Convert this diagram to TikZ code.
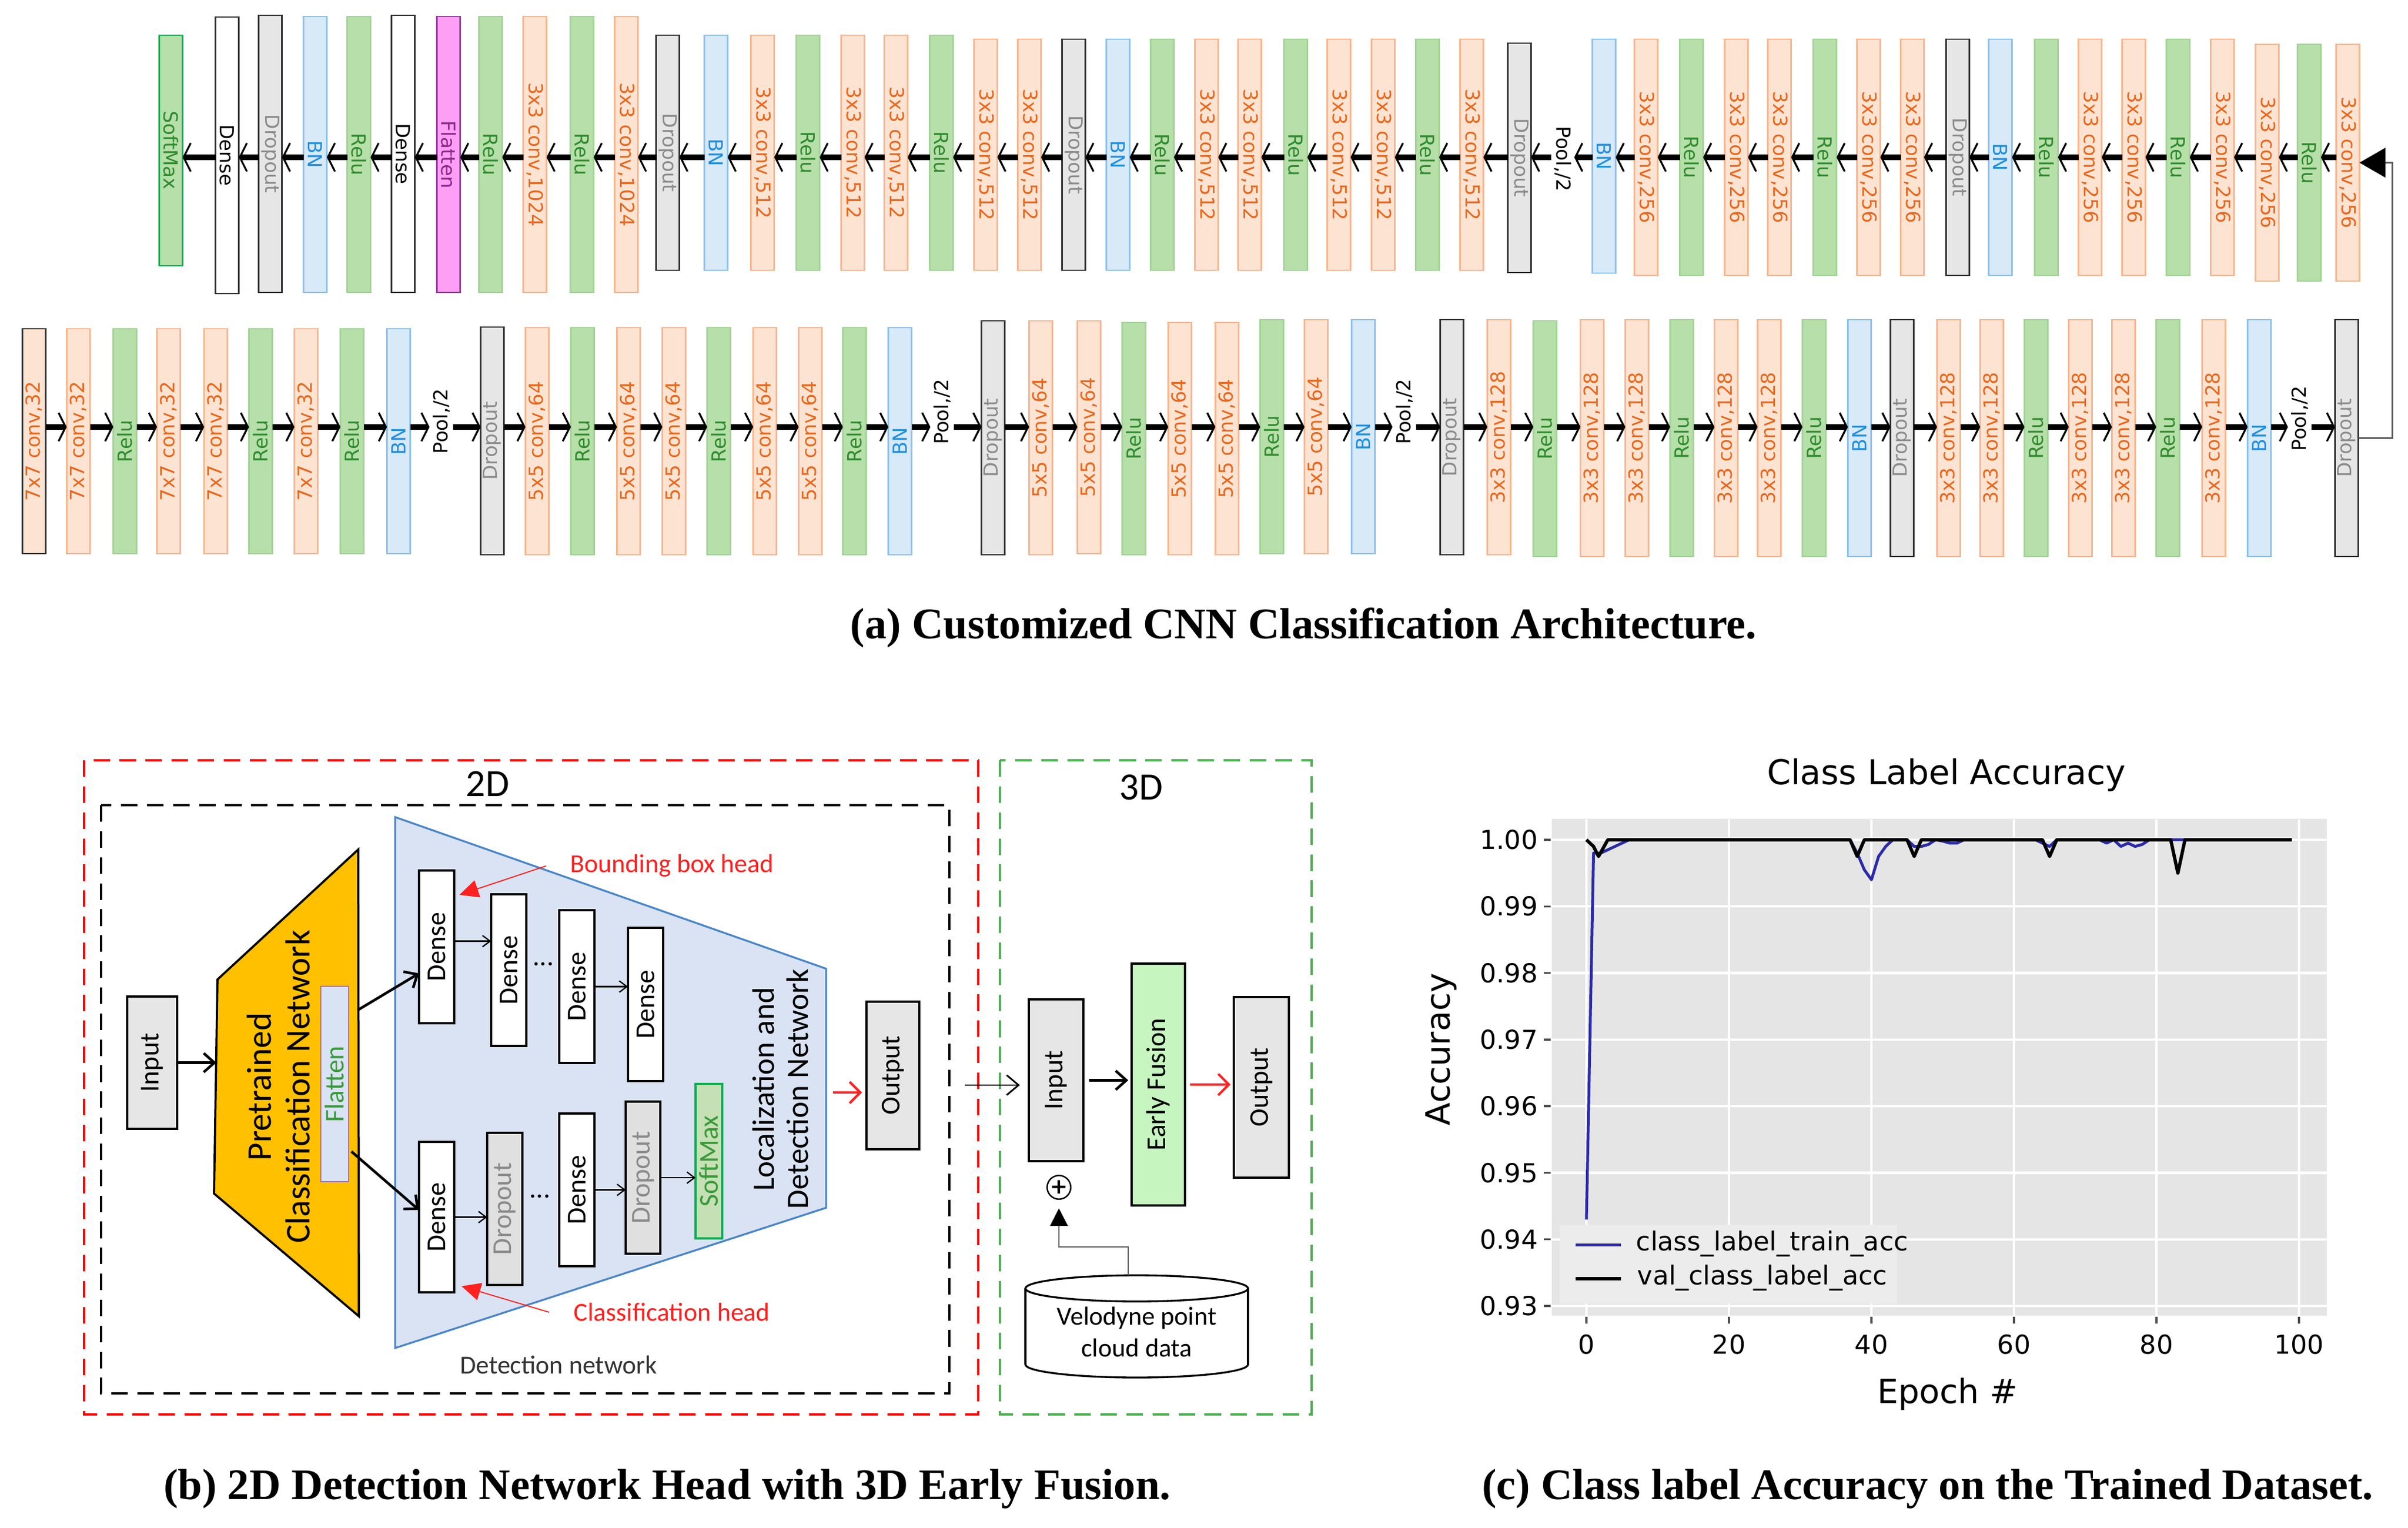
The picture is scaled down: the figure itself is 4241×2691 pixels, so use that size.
\documentclass[tikz,border=0pt]{standalone}
\usepackage{fontspec}
\usepackage{graphicx}
\setmainfont{Liberation Serif}
\newfontfamily\dvs{DejaVu Sans}
\newfontfamily\carl{Carlito}
\usetikzlibrary{arrows.meta}
\definecolor{convF}{HTML}{FDE3D2}
\definecolor{convD}{HTML}{F8B68F}
\definecolor{convT}{HTML}{E8671C}
\definecolor{reluF}{HTML}{B7DFA9}
\definecolor{reluD}{HTML}{A2D496}
\definecolor{reluT}{HTML}{2E8B2E}
\definecolor{bnF}{HTML}{D8E9F8}
\definecolor{bnD}{HTML}{8CC2EE}
\definecolor{bnT}{HTML}{1E8FE0}
\definecolor{dropF}{HTML}{E6E6E6}
\definecolor{dropT}{HTML}{8A8A8A}
\definecolor{darkD}{HTML}{333333}
\definecolor{flatF}{HTML}{FF9EF5}
\definecolor{flatD}{HTML}{9B3FA6}
\definecolor{flatT}{HTML}{8A2A8A}
\definecolor{smaxD}{HTML}{00B050}
\definecolor{orangeP}{HTML}{FFC000}
\definecolor{blueF}{HTML}{DAE3F3}
\definecolor{blueD}{HTML}{4A86C8}
\definecolor{grayB}{HTML}{E7E6E6}
\definecolor{dropB}{HTML}{E0E0E0}
\definecolor{efF}{HTML}{C6F5C0}
\definecolor{greenDash}{HTML}{4CAF50}
\definecolor{redT}{HTML}{FF2020}
\definecolor{flatP}{HTML}{A070D0}
\definecolor{flatG}{HTML}{3A9A3A}
\definecolor{smF}{HTML}{C5E0B4}
\definecolor{plotbg}{HTML}{E5E5E5}
\definecolor{legbg}{HTML}{ECECEC}
\definecolor{trainC}{HTML}{2B2BAA}
\tikzset{
  lay/.style={draw, inner sep=0pt, outer sep=0pt, line width=0.7pt, minimum width=9.84pt, font=\dvs\fontsize{8.2}{9}\selectfont},
  Lconv/.style={lay, fill=convF, draw=convD, text=convT},
  Lconvk/.style={Lconv, draw=darkD},
  Lrelu/.style={lay, fill=reluF, draw=reluD, text=reluT},
  Lbn/.style={lay, fill=bnF, draw=bnD, text=bnT},
  Ldrop/.style={lay, fill=dropF, draw=darkD, text=dropT},
  Ldense/.style={lay, fill=white, draw=darkD, text=black},
  Lflat/.style={lay, fill=flatF, draw=flatD, text=flatT},
  Lsmax/.style={lay, fill=reluF, draw=smaxD, text=reluT},
  Lpool/.style={inner sep=0pt, outer sep=0pt, minimum width=9.84pt, font=\dvs\fontsize{8.2}{9}\selectfont, text=black},
  flowA/.style={line width=2.3pt, -{Straight Barb[length=3pt,width=12pt,line width=0.8pt]}},
  sz/.style 2 args={minimum width=#1*0.24pt, minimum height=#2*0.24pt},
  bb/.style={draw, line width=0.75pt, inner sep=0pt, outer sep=0pt, font=\carl\fontsize{11.5}{13}\selectfont},
  bw/.style={bb, fill=white},
  bg/.style={bb, fill=grayB},
  bd/.style={bb, fill=dropB, text=dropT},
  bs/.style={bb, fill=smF, draw=smaxD, text=flatG},
  barr/.style={line width=1.1pt, -{Straight Barb[length=4.5pt,width=8pt]}},
  sarr/.style={line width=0.55pt, -{Straight Barb[length=3.2pt,width=4.8pt]}},
  rarr/.style={line width=1pt, draw=redT, -{Straight Barb[length=4.5pt,width=9pt]}},
  karr/.style={line width=0.7pt, -{Straight Barb[length=5pt,width=8.4pt]}},
  rpt/.style={line width=0.45pt, draw=redT, -{Triangle[length=8pt,width=7.5pt]}},
  dashbox/.style={line width=1pt, dash pattern=on 7pt off 4pt},
  tfont/.style={font=\dvs\fontsize{11}{13}\selectfont},
}
\begin{document}
\begin{tikzpicture}[x=0.24pt,y=-0.24pt]
\fill[white] (0,0) rectangle (4241,2691);
\useasboundingbox (0,0) rectangle (4241,2691);

% ---------------- (a) top row ----------------
\foreach \x/\st/\lab/\ya/\yb [count=\i] in {
301/Lsmax/SoftMax/62/468,
400/Ldense/Dense/30/517,
476/Ldrop/Dropout/27/515,
555/Lbn/BN/29/515,
632/Lrelu/Relu/29/515,
710/Ldense/Dense/27/515,
790/Lflat/Flatten/29/515,
864/Lrelu/Relu/29/515,
942/Lconv/{3x3 conv,1024}/29/515,
1025/Lrelu/Relu/29/515,
1103/Lconv/{3x3 conv,1024}/29/515,
1176/Ldrop/Dropout/62/476,
1261/Lbn/BN/62/476,
1343/Lconv/{3x3 conv,512}/62/476,
1423/Lrelu/Relu/62/476,
1502/Lconv/{3x3 conv,512}/62/476,
1578/Lconv/{3x3 conv,512}/62/476,
1658/Lrelu/Relu/62/476,
1736/Lconv/{3x3 conv,512}/69/476,
1813/Lconv/{3x3 conv,512}/69/476,
1891/Ldrop/Dropout/69/476,
1969/Lbn/BN/69/476,
2047/Lrelu/Relu/69/476,
2125/Lconv/{3x3 conv,512}/69/476,
2201/Lconv/{3x3 conv,512}/69/476,
2282/Lrelu/Relu/69/476,
2358/Lconv/{3x3 conv,512}/69/476,
2436/Lconv/{3x3 conv,512}/69/476,
2514/Lrelu/Relu/69/476,
2592/Lconv/{3x3 conv,512}/69/476,
2676/Ldrop/Dropout/76/480,
2752/Lpool/{Pool,/2}/230/330,
2825/Lbn/BN/69/481,
2899/Lconv/{3x3 conv,256}/69/485,
2979/Lrelu/Relu/69/485,
3058/Lconv/{3x3 conv,256}/69/485,
3134/Lconv/{3x3 conv,256}/69/485,
3214/Lrelu/Relu/69/485,
3291/Lconv/{3x3 conv,256}/69/485,
3368/Lconv/{3x3 conv,256}/69/485,
3448/Ldrop/Dropout/69/485,
3523/Lbn/BN/69/485,
3604/Lrelu/Relu/69/485,
3681/Lconv/{3x3 conv,256}/69/485,
3758/Lconv/{3x3 conv,256}/69/485,
3836/Lrelu/Relu/69/485,
3914/Lconv/{3x3 conv,256}/69/485,
3993/Lconv/{3x3 conv,256}/78/495,
4067/Lrelu/Relu/78/495,
4135/Lconv/{3x3 conv,256}/78/495}{
  \node[\st, minimum height={(\yb-\ya)*0.24pt}] (t\i) at (\x,{(\ya+\yb)/2}) {\rotatebox{-90}{\lab}};
}
\coordinate (tlev) at (0,277);
\foreach \i in {1,...,49}{
  \pgfmathtruncatemacro\k{\i+1}
  \draw[flowA] (t\k.west |- tlev) -- (t\i.east |- tlev);
}

% ---------------- (a) bottom row ----------------
\foreach \x/\st/\lab/\ya/\yb [count=\i] in {
60/Lconvk/{7x7 conv,32}/579/975,
138/Lconv/{7x7 conv,32}/579/975,
220/Lrelu/Relu/579/975,
297/Lconv/{7x7 conv,32}/579/975,
380/Lconv/{7x7 conv,32}/579/975,
459/Lrelu/Relu/579/975,
539/Lconv/{7x7 conv,32}/579/975,
620/Lrelu/Relu/579/975,
702/Lbn/BN/579/975,
777/Lpool/{Pool,/2}/692/792,
867/Ldrop/Dropout/576/977,
946/Lconv/{5x5 conv,64}/577/977,
1026/Lrelu/Relu/577/977,
1107/Lconv/{5x5 conv,64}/577/977,
1187/Lconv/{5x5 conv,64}/577/977,
1266/Lrelu/Relu/577/977,
1347/Lconv/{5x5 conv,64}/577/977,
1427/Lconv/{5x5 conv,64}/577/977,
1505/Lrelu/Relu/577/977,
1585/Lbn/BN/577/977,
1659/Lpool/{Pool,/2}/675/775,
1749/Ldrop/Dropout/565/977,
1833/Lconv/{5x5 conv,64}/565/977,
1918/Lconv/{5x5 conv,64}/565/975,
1997/Lrelu/Relu/568/977,
2078/Lconv/{5x5 conv,64}/568/977,
2161/Lconv/{5x5 conv,64}/568/977,
2240/Lrelu/Relu/563/975,
2318/Lconv/{5x5 conv,64}/563/975,
2401/Lbn/BN/563/975,
2473/Lpool/{Pool,/2}/675/775,
2557/Ldrop/Dropout/563/977,
2640/Lconv/{3x3 conv,128}/563/977,
2721/Lrelu/Relu/565/980,
2804/Lconv/{3x3 conv,128}/563/980,
2883/Lconv/{3x3 conv,128}/563/980,
2962/Lrelu/Relu/563/980,
3040/Lconv/{3x3 conv,128}/563/980,
3116/Lconv/{3x3 conv,128}/563/980,
3195/Lrelu/Relu/563/980,
3275/Lbn/BN/563/980,
3350/Ldrop/Dropout/563/980,
3432/Lconv/{3x3 conv,128}/563/980,
3508/Lconv/{3x3 conv,128}/563/980,
3586/Lrelu/Relu/563/980,
3664/Lconv/{3x3 conv,128}/563/980,
3740/Lconv/{3x3 conv,128}/563/980,
3818/Lrelu/Relu/563/980,
3899/Lconv/{3x3 conv,128}/563/980,
3979/Lbn/BN/563/980,
4050/Lpool/{Pool,/2}/687/787,
4133/Ldrop/Dropout/563/980}{
  \node[\st, minimum height={(\yb-\ya)*0.24pt}] (b\i) at (\x,{(\ya+\yb)/2}) {\rotatebox{90}{\lab}};
}
\coordinate (blev) at (0,752);
\foreach \i in {1,...,51}{
  \pgfmathtruncatemacro\k{\i+1}
  \draw[flowA] (b\i.east |- blev) -- (b\k.west |- blev);
}
% row connector
\coordinate (rc) at (4213,0);
\draw[line width=0.7pt, draw=black!65, -{Triangle[length=11pt,width=12.5pt,color=black]}]
  (b52.east) -| (rc |- t50.east) -- (t50.east);

\node[font=\bfseries\fontsize{18.4}{22}\selectfont, anchor=base] (capa) at (2296,1124) {(a) Customized CNN Classification Architecture.};

% ---------------- (b) ----------------
\draw[dashbox, draw=red] (148,1339) rectangle (1723,2491);
\draw[dashbox, draw=black] (178,1418) rectangle (1672,2454);
\draw[dashbox, draw=greenDash] (1761,1339) rectangle (2310,2491);
\node[font=\carl\fontsize{16.3}{18}\selectfont] (lab2d) at (859,1380) {2D};
\node[font=\carl\fontsize{16.3}{18}\selectfont] (lab3d) at (2010,1387) {3D};

\draw[fill=orangeP, line width=0.9pt] (631,1496) -- (383,1725) -- (377,2102) -- (632,2318) -- cycle;
\node[rotate=90, align=center, font=\carl\fontsize{14.7}{16.3}\selectfont] (pcn) at (490,1914) {Pretrained\\Classification Network};
\node[draw=flatP, fill=blueF, line width=0.5pt, inner sep=0pt, outer sep=0pt, sz={49}{344}, text=flatG, font=\carl\fontsize{11.5}{13}\selectfont] (flat2) at (589.5,1909) {\rotatebox{90}{Flatten}};

\draw[fill=blueF, draw=blueD, line width=0.8pt] (696,1439) -- (1455,1706) -- (1455,2127) -- (696,2374) -- cycle;
\node[rotate=90, align=center, font=\carl\fontsize{13.2}{14.4}\selectfont] (ldn) at (1375,1918) {Localization and\\Detection Network};

\node[bg, sz={88}{233}] (inp2) at (268,1871.5) {\rotatebox{90}{Input}};
\node[bw, sz={62}{269}] (d1) at (769,1667.5) {\rotatebox{90}{Dense}};
\node[bw, sz={62}{267}] (d2) at (896,1708.5) {\rotatebox{90}{Dense}};
\node[bw, sz={62}{269}] (d3) at (1016,1737.5) {\rotatebox{90}{Dense}};
\node[bw, sz={62}{270}] (d4) at (1137,1769) {\rotatebox{90}{Dense}};
\node[bw, sz={62}{265}] (l1) at (769,2143.5) {\rotatebox{90}{Dense}};
\node[bd, sz={62}{268}] (l2) at (889,2129) {\rotatebox{90}{Dropout}};
\node[bw, sz={62}{269}] (l3) at (1016,2095.5) {\rotatebox{90}{Dense}};
\node[bd, sz={61}{268}] (l4) at (1132.5,2074) {\rotatebox{90}{Dropout}};
\node[bs, sz={47}{272}] (sm2) at (1248.5,2045) {\rotatebox{90}{SoftMax}};
\node[font=\carl\fontsize{11.5}{13}\selectfont] (dots1) at (957,1698) {...};
\node[font=\carl\fontsize{11.5}{13}\selectfont] (dots2) at (951,2107) {...};

\node[bg, sz={93}{260}] (out2) at (1572.5,1894) {\rotatebox{90}{Output}};
\node[bg, sz={96}{285}] (in3) at (1860,1902.5) {\rotatebox{90}{Input}};
\node[bb, fill=efF, sz={94}{426}] (ef) at (2040,1910) {\rotatebox{90}{Early Fusion}};
\node[bg, sz={97}{318}] (out3) at (2221.5,1915) {\rotatebox{90}{Output}};

\coordinate (trL) at (381,1871.5);
\draw[barr] (inp2.east) -- (trL);
\coordinate (fu) at (630,1779);
\coordinate (fl) at (619,2028);
\draw[barr] (fu) -- ([yshift=-11.2pt]d1.west);
\draw[barr] (fl) -- ([yshift=3pt]l1.west);
\coordinate (a12) at ([yshift=2.4pt]d1.east);
\draw[sarr] (a12) -- (a12 -| d2.west);
\draw[sarr] (d3.east) -- (d3.east -| d4.west);
\draw[sarr] (l1.east) -- (l1.east -| l2.west);
\draw[sarr] (l3.east) -- (l3.east -| l4.west);
\draw[sarr] (l4.east) -- (l4.east -| sm2.west);

\node[font=\carl\fontsize{11}{13}\selectfont, text=redT, inner sep=0pt] (bbh) at (1183.5,1525) {Bounding box head};
\draw[rpt] ([xshift=-10pt]bbh.west) -- ([xshift=2.2pt,yshift=-10.3pt]d1.north east);
\node[font=\carl\fontsize{11}{13}\selectfont, text=redT, inner sep=0pt] (clh) at (1183.5,2311) {Classification head};
\draw[rpt] ([xshift=-10.3pt]clh.west) -- ([xshift=3.1pt,yshift=2.6pt]l1.south east);
\node[font=\carl\fontsize{11}{13}\selectfont, text=black!80] (detn) at (984,2404) {Detection network};

\coordinate (blr) at (1467,1924);
\draw[rarr, shorten >=1.9pt] (blr) -- (blr -| out2.west);
\coordinate (a3s) at (1699,1911);
\draw[karr, shorten >=3.8pt] (a3s) -- (a3s -| in3.west);
\draw[barr, shorten <=2.4pt, shorten >=1.4pt] (in3.east) -- (in3.east -| ef.west);
\draw[rarr, shorten <=2.2pt, shorten >=1.4pt] (ef.east) -- (ef.east -| out3.west);

% cylinder
\filldraw[fill=white, line width=0.8pt] (2002,2403) ellipse [x radius=47.04pt, y radius=5.52pt];
\fill[white] (1806,2269) rectangle (2198,2403);
\draw[line width=0.8pt] (1806,2269) -- (1806,2403) (2198,2269) -- (2198,2403);
\filldraw[fill=white, line width=0.8pt] (2002,2269) ellipse [x radius=47.04pt, y radius=5.52pt];
\node[align=center, font=\carl\fontsize{11}{13.4}\selectfont] (velo) at (2002,2346) {Velodyne point\\cloud data};
\node[circle, draw, line width=0.6pt, minimum size=10pt, inner sep=0pt, font=\dvs\bfseries\fontsize{9}{9}\selectfont] (plus) at (1865,2091) {+};
\coordinate (cylt) at (1987,2246);
\coordinate (bend) at (1865,2196);
\draw[line width=0.6pt, draw=black!65, -{Triangle[length=7.4pt,width=7.4pt,color=black]}, shorten >=3.6pt] (cylt) |- (bend) -- (plus.south);

\node[font=\bfseries\fontsize{18.4}{22}\selectfont, anchor=base] (capb) at (1175,2640) {(b) 2D Detection Network Head with 3D Early Fusion.};

% ---------------- (c) ----------------
\fill[plotbg] (2733,1442) rectangle (4098,2317);
\begin{scope}[shift={(2794,2300)}, x=3.012pt, y=28.15pt]
  \foreach \e in {0,20,...,100} \draw[white, line width=1pt] (\e,-0.145) -- (\e,7.31);
  \foreach \v in {0,...,7} \draw[white, line width=1pt] (-4.86,\v) -- (103.9,\v);
\end{scope}
\fill[legbg] (2747,2157) rectangle (3341,2296);
\begin{scope}[shift={(2794,2300)}, x=3.012pt, y=28.15pt]
  \draw[trainC, line width=1.2pt, line join=round] plot coordinates {(0,1.3) (1,6.8) (2,6.8) (3,6.85) (4,6.9) (5,6.95) (6,7) (37,7) (38,6.8) (39,6.55) (40,6.4) (41,6.75) (42,6.9) (43,7) (45,7) (46,6.9) (47,6.9) (48,6.93) (49,7) (50,6.98) (51,6.95) (52,6.95) (53,7) (63,7) (64,6.95) (65,6.9) (66,7) (72,7) (73,6.95) (74,7) (75,6.9) (76,6.95) (77,6.9) (78,6.93) (79,7) (99,7)};
  \draw[black, line width=1.4pt, line join=round] plot coordinates {(0,7) (1,6.9) (1.7,6.75) (3,7) (37,7) (38,6.75) (39,7) (45,7) (46,6.75) (47,7) (64,7) (65,6.75) (66,7) (82,7) (83,6.5) (84,7) (99,7)};
\end{scope}
\foreach \v/\lab in {0/0.93,1/0.94,2/0.95,3/0.96,4/0.97,5/0.98,6/0.99,7/1.00}{
  \draw[line width=0.8pt, black!70] (2719,{2300-\v*117.29}) -- (2731,{2300-\v*117.29});
  \node[tfont, anchor=east, inner sep=0pt] (yt\v) at (2709,{2300-\v*117.29}) {\lab};
}
\foreach \e in {0,20,...,100}{
  \draw[line width=0.8pt, black!70] ({2794+\e*12.55},2319) -- ({2794+\e*12.55},2331);
  \node[tfont] (xt\e) at ({2794+\e*12.55},2368) {\e};
}
\node[rotate=90, font=\dvs\fontsize{14.1}{16}\selectfont] (ylab) at (2538,1848) {Accuracy};
\node[font=\dvs\fontsize{14.1}{16}\selectfont] (xlab) at (3430,2455) {Epoch \#};
\node[font=\dvs\fontsize{14.4}{16}\selectfont] (ptitle) at (3428,1365) {Class Label Accuracy};
\draw[trainC, line width=1.2pt] (2775,2192) -- (2855,2192);
\draw[black, line width=1.4pt] (2775,2252) -- (2855,2252);
\node[tfont, anchor=west, inner sep=0pt] (lg1) at (2881,2190) {class\_label\_train\_acc};
\node[tfont, anchor=west, inner sep=0pt] (lg2) at (2883,2250) {val\_class\_label\_acc};

\node[font=\bfseries\fontsize{18.4}{22}\selectfont, anchor=base] (capc) at (3395,2640) {(c) Class label Accuracy on the Trained Dataset.};
\end{tikzpicture}
\end{document}
